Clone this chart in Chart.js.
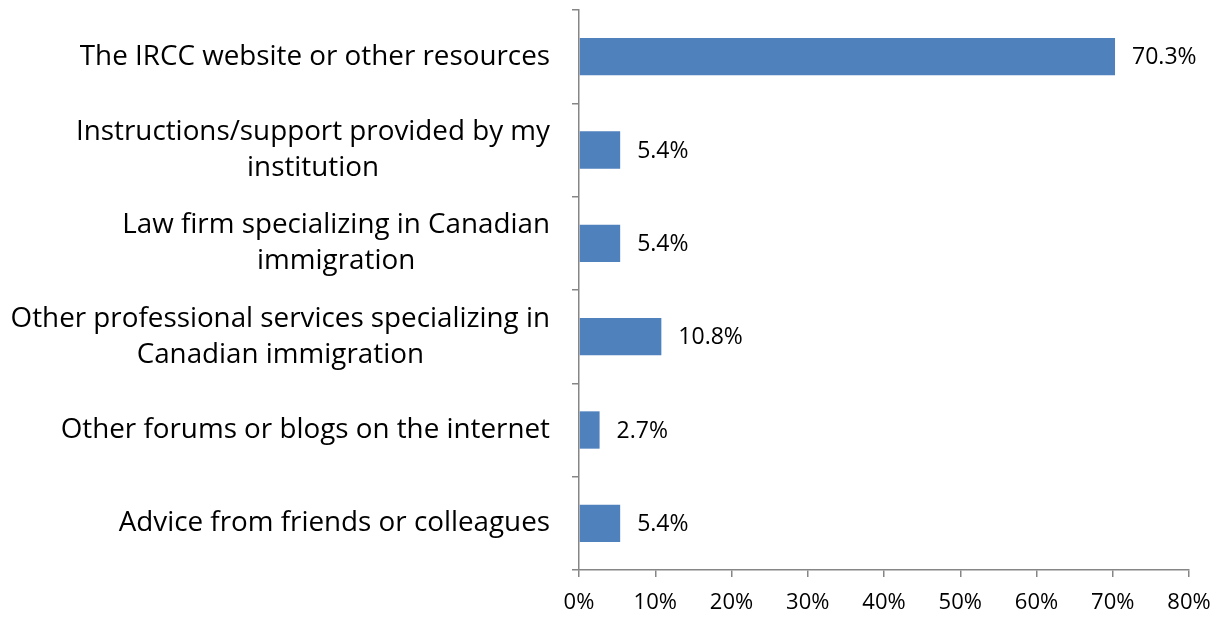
<!DOCTYPE html>
<html>
<head>
<meta charset="utf-8">
<script src="https://cdn.jsdelivr.net/npm/chart.js@4/dist/chart.umd.min.js"></script>
<style>
  html, body { margin: 0; padding: 0; background: #fff; }
  #wrap { width: 1220px; height: 620px; }
</style>
</head>
<body>
<div id="wrap"><canvas id="chart-area-bar"></canvas></div>
<script>
var categories = [
    ["The IRCC website or other resources"],
    ["Instructions/support provided by my", "institution"],
    ["Law firm specializing in Canadian", "immigration"],
    ["Other professional services specializing in", "Canadian immigration"],
    ["Other forums or blogs on the internet"],
    ["Advice from friends or colleagues"]
];
var shares = [70.3, 5.4, 5.4, 10.8, 2.7, 5.4];
var tickValues = [0, 10, 20, 30, 40, 50, 60, 70, 80];

var fontName = "'Open Sans', sans-serif";
var axisGrey = '#868686';

// category labels: widest line right-aligned to the axis gap, other lines centred under it
var categoryLabels = {
    id: 'categoryLabels',
    afterDraw: function(chart) {
        var ctx = chart.ctx;
        var yScale = chart.scales.y;
        var rightEdge = chart.chartArea.left - 29;
        var lineHeight = 36;
        ctx.save();
        ctx.font = '27.8px ' + fontName;
        ctx.fillStyle = '#000';
        ctx.textAlign = 'center';
        ctx.textBaseline = 'middle';
        categories.forEach(function(lines, i) {
            var widest = 0;
            lines.forEach(function(l) { widest = Math.max(widest, ctx.measureText(l).width); });
            var cx = rightEdge - widest / 2;
            var cy = yScale.getPixelForTick(i);
            var startY = cy - (lines.length - 1) * lineHeight / 2;
            lines.forEach(function(l, j) {
                ctx.fillText(l, cx, startY + j * lineHeight);
            });
        });
        ctx.restore();
    }
};

var valueLabels = {
    id: 'valueLabels',
    afterDatasetsDraw: function(chart) {
        var ctx = chart.ctx;
        var meta = chart.getDatasetMeta(0);
        ctx.save();
        ctx.font = '23px ' + fontName;
        ctx.fillStyle = '#000';
        ctx.textAlign = 'left';
        ctx.textBaseline = 'middle';
        meta.data.forEach(function(bar, i) {
            ctx.fillText(shares[i].toFixed(1) + '%', bar.x + 17, bar.y + 1);
        });
        ctx.restore();
    }
};

var configBarchart = {
    type: 'bar',
    data: {
        labels: categories.map(function(c) { return c.join(' '); }),
        datasets: [{
            data: shares,
            backgroundColor: '#4F81BD',
            borderWidth: 0,
            barPercentage: 0.4,
            categoryPercentage: 1.0
        }]
    },
    options: {
        indexAxis: 'y',
        responsive: true,
        maintainAspectRatio: false,
        animation: false,
        layout: { padding: { top: 10, right: 31, left: 0, bottom: 0 } },
        plugins: {
            legend: { display: false },
            tooltip: { enabled: false }
        },
        scales: {
            x: {
                min: 0,
                max: 80,
                afterBuildTicks: function(scale) {
                    scale.ticks = tickValues.map(function(v) { return { value: v }; });
                },
                afterFit: function(scale) {
                    scale.height = 50;
                    scale.paddingLeft = 0;
                    scale.paddingRight = 0;
                },
                grid: {
                    display: true,
                    drawOnChartArea: false,
                    drawTicks: true,
                    tickLength: 7,
                    color: axisGrey,
                    lineWidth: 1.5
                },
                border: { display: true, color: axisGrey, width: 1.5 },
                ticks: {
                    color: '#000',
                    font: { family: fontName, size: 22 },
                    padding: 13,
                    maxRotation: 0,
                    callback: function(v) { return v + '%'; }
                }
            },
            y: {
                offset: true,
                afterFit: function(scale) { scale.width = 579; },
                grid: {
                    display: true,
                    offset: true,
                    drawOnChartArea: false,
                    drawTicks: true,
                    tickLength: 7,
                    color: axisGrey,
                    lineWidth: 1.5
                },
                border: { display: true, color: axisGrey, width: 1.5 },
                ticks: { display: false }
            }
        }
    },
    plugins: [categoryLabels, valueLabels]
};

window.onload = function() {
    var ctxbarchart = document.getElementById('chart-area-bar').getContext('2d');
    window.myBar = new Chart(ctxbarchart, configBarchart);
};
</script>
</body>
</html>
